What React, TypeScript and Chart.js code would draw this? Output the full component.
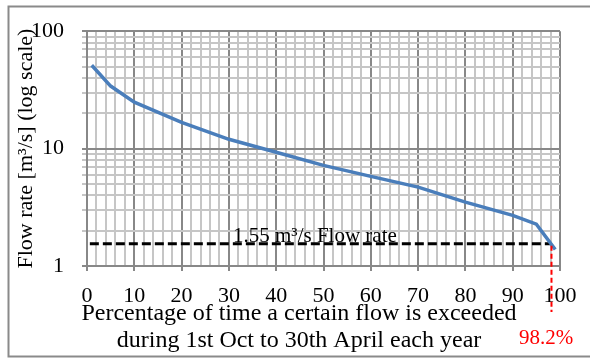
import React, { useEffect, useRef } from 'react';
import { Chart, registerables } from 'chart.js';

Chart.register(...registerables);

// ---- data ----
const exceedancePct = [1, 5, 10, 20, 30, 40, 50, 60, 70, 80, 90, 95, 99];
const flowRate = [51.3, 34.1, 24.9, 16.7, 12.0, 9.3, 7.2, 5.8, 4.7, 3.5, 2.7, 2.27, 1.38];
const thresholdFlow = 1.55;
const thresholdStartPct = 0.6;
const thresholdPct = 98.2;
const thresholdLabel = '1.55 m\u00B3/s Flow rate';
const thresholdPctLabel = '98.2%';
const xTickValues = [0, 2, 4, 6, 8, 10, 12, 14, 16, 18, 20, 22, 24, 26, 28, 30, 32, 34, 36, 38, 40, 42, 44, 46, 48, 50, 52, 54, 56, 58, 60, 62, 64, 66, 68, 70, 72, 74, 76, 78, 80, 82, 84, 86, 88, 90, 92, 94, 96, 98, 100];
const xLabelValues = [0, 10, 20, 30, 40, 50, 60, 70, 80, 90, 100];
const yTickValues = [1, 2, 3, 4, 5, 6, 7, 8, 9, 10, 20, 30, 40, 50, 60, 70, 80, 90, 100];
const yLabelValues = [1, 10, 100];
const xTitleLines = ['Percentage of time a certain flow is exceeded', 'during 1st Oct to 30th April each year'];
const yTitle = 'Flow rate [m\u00B3/s] (log scale)';

const FONT = "'Liberation Serif', 'Times New Roman', serif";
const MAJOR = '#888888';
const MINOR = '#c6c6c6';

const decorPlugin = {
  id: 'decor',
  beforeDraw(chart: any) {
    const { ctx, width, height } = chart;
    ctx.save();
    ctx.fillStyle = '#ffffff';
    ctx.fillRect(0, 0, width, height);
    ctx.restore();
  },
  afterDraw(chart: any) {
    const { ctx } = chart;
    const xs = chart.scales.x;
    const ys = chart.scales.y;
    const px = xs.getPixelForValue(thresholdPct);
    const py = ys.getPixelForValue(thresholdFlow);
    ctx.save();
    // red vertical dashed marker
    ctx.strokeStyle = '#ff0000';
    ctx.lineWidth = 2;
    ctx.setLineDash([5, 3]);
    ctx.beginPath();
    ctx.moveTo(px, py + 2);
    ctx.lineTo(px, 312);
    ctx.stroke();
    ctx.setLineDash([]);
    // threshold annotation
    ctx.fillStyle = '#000000';
    ctx.font = `21px ${FONT}`;
    ctx.textAlign = 'left';
    ctx.textBaseline = 'alphabetic';
    ctx.fillText(thresholdLabel, 233, py - 2);
    // red percent label
    ctx.fillStyle = '#ff0000';
    ctx.font = `21px ${FONT}`;
    ctx.textAlign = 'center';
    ctx.fillText(thresholdPctLabel, 546, 344);
    // x axis title (two lines)
    ctx.fillStyle = '#000000';
    ctx.font = `24px ${FONT}`;
    ctx.textAlign = 'center';
    ctx.fillText(xTitleLines[0], 299, 320);
    ctx.fillText(xTitleLines[1], 299, 347);
    // outer frame
    ctx.strokeStyle = '#8a8a8a';
    ctx.lineWidth = 2;
    ctx.strokeRect(8.5, 6.5, 600, 350);
    ctx.restore();
  },
};

export default function App() {
  const ref = useRef<HTMLCanvasElement | null>(null);
  useEffect(() => {
    if (!ref.current) return;
    const chart = new Chart(ref.current, {
      type: 'line',
      data: {
        datasets: [
          {
            data: exceedancePct.map((x, i) => ({ x, y: flowRate[i] })),
            borderColor: '#4a7ebb',
            borderWidth: 3.5,
            pointRadius: 0,
            tension: 0,
            fill: false,
          },
          {
            data: [
              { x: thresholdStartPct, y: thresholdFlow },
              { x: thresholdPct, y: thresholdFlow },
            ],
            borderColor: '#000000',
            borderWidth: 3,
            borderDash: [9, 4],
            pointRadius: 0,
            fill: false,
          },
        ],
      },
      options: {
        responsive: false,
        animation: false,
        events: [],
        layout: { padding: { left: 0, top: 23, right: 30, bottom: 0 } },
        plugins: { legend: { display: false }, tooltip: { enabled: false }, title: { display: false } },
        scales: {
          x: {
            type: 'linear',
            min: 0,
            max: 100,
            afterBuildTicks: (scale: any) => {
              scale.ticks = xTickValues.map((v) => ({ value: v }));
            },
            afterFit: (scale: any) => {
              scale.height = 94;
            },
            grid: {
              color: (c: any) => (c.tick && xLabelValues.includes(c.tick.value) ? MAJOR : MINOR),
              tickColor: (c: any) => (c.tick && xLabelValues.includes(c.tick.value) ? MAJOR : 'rgba(0,0,0,0)'),
              lineWidth: 2,
              drawTicks: true,
              tickLength: 5,
            },
            border: { display: true, color: MAJOR, width: 2 },
            ticks: {
              autoSkip: false,
              maxRotation: 0,
              minRotation: 0,
              padding: 12,
              color: '#000000',
              font: { family: FONT, size: 22 },
              callback: (v: any) => (xLabelValues.includes(Number(v)) ? String(v) : ''),
            },
          },
          y: {
            type: 'logarithmic',
            min: 1,
            max: 100,
            afterBuildTicks: (scale: any) => {
              scale.ticks = yTickValues.map((v) => ({ value: v }));
            },
            afterFit: (scale: any) => {
              scale.width = 87;
            },
            grid: {
              color: (c: any) => (c.tick && yLabelValues.includes(c.tick.value) ? MAJOR : MINOR),
              tickColor: (c: any) => (c.tick && yLabelValues.includes(c.tick.value) ? MAJOR : MINOR),
              lineWidth: 2,
              drawTicks: true,
              tickLength: 5,
            },
            border: { display: true, color: MAJOR, width: 2 },
            ticks: {
              autoSkip: false,
              padding: 18,
              color: '#000000',
              font: { family: FONT, size: 22 },
              callback: (v: any) => (yLabelValues.includes(Number(v)) ? String(v) : ''),
            },
            title: {
              display: true,
              text: yTitle,
              color: '#000000',
              font: { family: FONT, size: 22 },
              padding: { top: 13, bottom: 0 },
            },
          },
        },
      },
      plugins: [decorPlugin],
    } as any);
    return () => chart.destroy();
  }, []);
  return (
    <div style={{ position: 'fixed', left: 0, top: 0, width: 590, height: 360 }}>
      <canvas ref={ref} width={590} height={360} style={{ display: 'block' }} />
    </div>
  );
}
